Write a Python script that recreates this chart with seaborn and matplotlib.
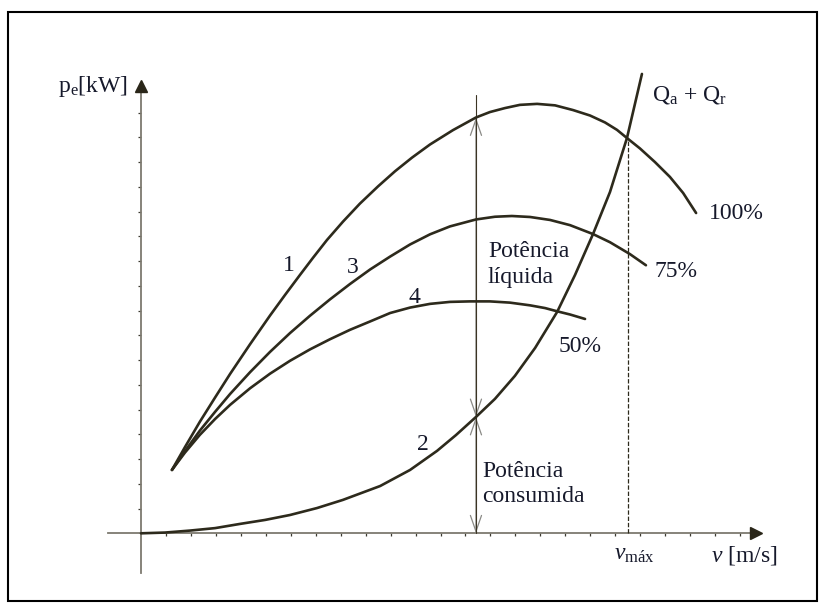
import numpy as np
import pandas as pd
import matplotlib
matplotlib.use("Agg")
import matplotlib.pyplot as plt
from matplotlib.patches import Rectangle
import seaborn as sns

# ---- data (chart units: one tick = one unit) ----
v_100 = [1.24, 1.76, 2.36, 2.97, 3.57, 4.37, 5.17, 5.77, 6.37, 6.89, 7.45, 8.09, 8.77,
         9.50, 10.18, 10.86, 11.58, 12.50, 13.42, 13.98, 14.58, 15.18, 15.87, 16.59,
         17.31, 17.99, 18.59, 19.07, 19.47, 19.99, 20.59, 21.19, 21.72, 22.24]
p_100 = [2.56, 3.48, 4.51, 5.49, 6.44, 7.64, 8.80, 9.63, 10.44, 11.13, 11.85, 12.59, 13.32,
         14.02, 14.63, 15.18, 15.71, 16.29, 16.80, 17.02, 17.18, 17.31, 17.35, 17.29,
         17.10, 16.88, 16.60, 16.30, 15.97, 15.55, 15.00, 14.40, 13.75, 12.94]

v_75 = [1.24, 1.76, 2.36, 2.97, 3.57, 4.37, 5.17, 5.97, 6.77, 7.57, 8.37, 9.18, 9.98,
        10.78, 11.58, 12.38, 13.42, 14.18, 14.86, 15.59, 16.39, 17.19, 18.11, 18.79,
        19.59, 20.23]
p_75 = [2.56, 3.32, 4.15, 4.91, 5.63, 6.51, 7.33, 8.09, 8.79, 9.45, 10.07, 10.66, 11.18,
        11.67, 12.08, 12.40, 12.68, 12.79, 12.82, 12.78, 12.66, 12.45, 12.09, 11.76,
        11.28, 10.83]

v_50 = [1.24, 1.76, 2.36, 2.97, 3.57, 4.37, 5.17, 5.97, 6.77, 7.57, 8.37, 9.18, 9.98,
        10.78, 11.58, 12.38, 13.18, 13.98, 14.78, 15.59, 16.19, 16.67, 17.19, 17.79]
p_50 = [2.56, 3.26, 3.98, 4.62, 5.19, 5.86, 6.45, 6.97, 7.43, 7.84, 8.22, 8.56, 8.90,
        9.12, 9.27, 9.35, 9.37, 9.37, 9.32, 9.21, 9.10, 8.97, 8.84, 8.66]

v_res = [0.0, 0.96, 1.96, 2.97, 3.97, 4.97, 5.97, 7.05, 8.09, 9.58, 10.78, 11.86,
         12.62, 13.42, 14.18, 14.98, 15.79, 16.67, 17.39, 18.11, 18.79, 19.47, 20.07]
p_res = [0.0, 0.03, 0.11, 0.21, 0.38, 0.54, 0.74, 1.02, 1.35, 1.91, 2.56, 3.33,
         3.97, 4.70, 5.43, 6.36, 7.49, 8.94, 10.44, 12.09, 13.79, 15.97, 18.56]

curve_names = ["100%", "75%", "50%", "Qa + Qr"]
v_ref = 13.42          # speed of the marked vertical line
p_ref_top = 16.80      # curve 1 at v_ref
p_ref_res = 4.70       # curve 2 at v_ref
v_max = 19.50
p_vmax = 15.97
x_ticks = list(range(1, 25))
y_ticks = list(range(1, 18))

# ---- style ----
sns.set_style("white")
plt.rcParams["font.family"] = ["Liberation Serif", "DejaVu Serif"]
plt.rcParams["mathtext.fontset"] = "custom"
plt.rcParams["mathtext.rm"] = "Liberation Serif"
plt.rcParams["mathtext.it"] = "Liberation Serif:italic"

curve_col = "#2d2a1c"
axis_col = "#7d7a70"
text_col = "#16192b"
FS = 17

fig = plt.figure(figsize=(8.24, 6.11), dpi=100)
ax = fig.add_axes([0, 0, 1, 1])
ax.set_facecolor("none")
ax.set_xlim(-5.649, 27.364)
ax.set_ylim(-3.139, 21.547)

frames = []
for name, vv, pp in zip(curve_names, [v_100, v_75, v_50, v_res], [p_100, p_75, p_50, p_res]):
    frames.append(pd.DataFrame({"v": vv, "p": pp, "curve": name}))
df = pd.concat(frames, ignore_index=True)

for name in curve_names:
    sub = df[df["curve"] == name]
    sns.lineplot(data=sub, x="v", y="p", sort=False, estimator=None, ax=ax,
                 color=curve_col, lw=1.9, zorder=4)

# axes as arrows through the origin
for s in ["top", "right"]:
    ax.spines[s].set_visible(False)
ax.spines["left"].set_position(("data", 0))
ax.spines["bottom"].set_position(("data", 0))
ax.spines["left"].set_bounds(-1.60, 18.07)
ax.spines["bottom"].set_bounds(-1.32, 24.64)
for s in ["left", "bottom"]:
    ax.spines[s].set_color(axis_col)
    ax.spines[s].set_linewidth(1.3)
ax.set_xticks(x_ticks)
ax.set_yticks(y_ticks)
ax.tick_params(axis="both", direction="out", length=2.4, width=0.9, color="#3c3a30",
               bottom=True, left=True, labelbottom=False, labelleft=False)
ax.set_xlabel("")
ax.set_ylabel("")
ax.plot([24.64], [0], marker=">", ms=8.5, color="#2a2619", clip_on=False, zorder=5)
ax.plot([0], [18.07], marker="^", ms=8.5, color="#2a2619", clip_on=False, zorder=5)

# vertical reference line with double arrows
ax.plot([v_ref, v_ref], [0, 17.71], color="#3b3424", lw=0.8, zorder=3)
arr = dict(arrowstyle="<->,head_length=11.5,head_width=4", mutation_scale=1,
           color="#8a8a86", lw=0.9, shrinkA=0, shrinkB=0)
ax.annotate("", xy=(v_ref, p_ref_top), xytext=(v_ref, p_ref_res), arrowprops=arr, zorder=2)
ax.annotate("", xy=(v_ref, p_ref_res), xytext=(v_ref, 0), arrowprops=arr, zorder=2)

# v_max dashed line
ax.plot([v_max, v_max], [0, p_vmax], color="#2d2a1c", lw=0.9, ls=(0, (3.5, 1.5)), zorder=3)

# labels
tk = dict(color=text_col, fontsize=FS)
ax.text(5.93, 10.84, "1", ha="center", va="center", **tk)
ax.text(8.49, 10.72, "3", ha="center", va="center", **tk)
ax.text(10.94, 9.51, "4", ha="center", va="center", **tk)
ax.text(11.30, 3.57, "2", ha="center", va="center", **tk)
ax.text(22.76, 12.94, "100%", ha="left", va="center", **tk)
ax.text(20.59, 10.56, "75%", ha="left", va="center", **tk)
ax.text(16.71, 7.53, "50%", ha="left", va="center", **tk)
ax.text(20.47, 17.47, r"Q$_\mathrm{a}$ + Q$_\mathrm{r}$", ha="left", va="baseline", **tk)
ax.text(13.90, 11.18, "Potência", ha="left", va="baseline", **tk)
ax.text(13.90, 10.10, "líquida", ha="left", va="baseline", **tk)
ax.text(13.67, 2.27, "Potência", ha="left", va="baseline", **tk)
ax.text(13.67, 1.26, "consumida", ha="left", va="baseline", **tk)
ax.text(-0.52, 17.84, r"p$_\mathrm{e}$[kW]", ha="right", va="baseline", **tk)
ax.text(18.95, -1.08, r"$v_{\mathrm{máx}}$", ha="left", va="baseline", **tk)
ax.text(22.84, -1.12, r"$v$ [m/s]", ha="left", va="baseline", **tk)

# outer frame
fig.add_artist(Rectangle((8 / 824, 10 / 611), 809 / 824, 589 / 611,
                         transform=fig.transFigure, fill=False, lw=1.5, ec="black"))

fig.savefig("out.png", dpi=100)
